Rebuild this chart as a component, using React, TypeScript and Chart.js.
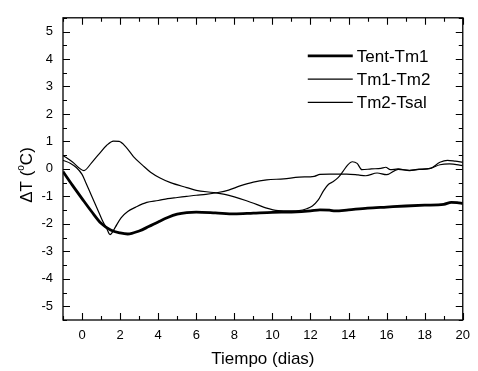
import React, { useEffect, useRef } from "react";
import { Chart, registerables } from "chart.js";

Chart.register(...registerables);

// ---- data ----
const seriesLabels = ["Tent-Tm1", "Tm1-Tm2", "Tm2-Tsal"];

const tentTm1X = [-1, -0.5, 0, 0.5, 1.0, 1.5, 2.0, 2.4, 3.0, 3.5, 4.0, 4.5, 5.0, 5.5, 6.0, 7.0, 8.0, 9.0, 10.0, 11.0, 12.0, 12.5, 13.0, 13.3, 14.0, 15.0, 16.0, 17.0, 18.0, 19.0, 19.4, 19.7, 20];
const tentTm1Y = [-0.1, -0.6, -1.08, -1.55, -1.98, -2.22, -2.33, -2.37, -2.26, -2.1, -1.93, -1.77, -1.65, -1.59, -1.57, -1.6, -1.64, -1.61, -1.58, -1.57, -1.53, -1.49, -1.5, -1.53, -1.49, -1.43, -1.39, -1.35, -1.32, -1.29, -1.22, -1.23, -1.26];

const tm1Tm2X = [-1, -0.5, 0.1, 0.5, 0.9, 1.3, 1.65, 1.95, 2.3, 2.7, 3.2, 3.6, 4.1, 4.65, 5.5, 6.0, 6.9, 7.5, 8.0, 8.6, 9.2, 9.65, 10.3, 11.0, 11.4, 11.8, 12.1, 12.4, 12.7, 12.95, 13.2, 13.45, 13.7, 13.95, 14.2, 14.45, 14.7, 15.2, 15.7, 15.95, 16.2, 16.6, 17.2, 17.7, 18.3, 18.8, 19.2, 19.6, 20];
const tm1Tm2Y = [0.49, 0.25, -0.06, 0.22, 0.55, 0.86, 1.01, 1.0, 0.8, 0.45, 0.12, -0.12, -0.33, -0.5, -0.68, -0.78, -0.86, -0.93, -1.02, -1.15, -1.3, -1.42, -1.52, -1.53, -1.52, -1.45, -1.35, -1.14, -0.78, -0.56, -0.46, -0.32, -0.1, 0.14, 0.26, 0.2, -0.03, 0.0, 0.02, 0.06, -0.03, 0.0, -0.06, -0.02, 0.02, 0.24, 0.31, 0.28, 0.24];

const tm2TsalX = [-1, -0.6, -0.3, 0, 0.2, 0.5, 0.8, 1.05, 1.3, 1.47, 1.6, 1.75, 2.05, 2.4, 2.8, 3.4, 4.0, 4.5, 5.0, 5.5, 6.0, 6.5, 7.14, 7.7, 8.3, 9.0, 9.7, 10.6, 11.4, 12.2, 12.5, 13.0, 13.9, 14.5, 14.9, 15.5, 16.0, 16.6, 17.2, 17.6, 18.3, 18.8, 19.3, 20];
const tm2TsalY = [0.31, 0.2, 0.05, -0.2, -0.5, -0.98, -1.45, -1.85, -2.18, -2.39, -2.3, -2.12, -1.78, -1.55, -1.4, -1.22, -1.15, -1.08, -1.04, -1.0, -0.96, -0.93, -0.86, -0.77, -0.62, -0.48, -0.4, -0.36, -0.3, -0.27, -0.2, -0.19, -0.19, -0.22, -0.25, -0.15, -0.21, -0.02, -0.05, -0.02, 0.02, 0.15, 0.18, 0.12];

const xTicks = [0, 2, 4, 6, 8, 10, 12, 14, 16, 18, 20];
const yTicks = [-5, -4, -3, -2, -1, 0, 1, 2, 3, 4, 5];
const xMin = -1;
const xMax = 20;
const yMin = -5.5;
const yMax = 5.5;
const xTitle = "Tiempo (dias)";
const yTitleParts = ["\u0394T (", "o", "C)"];

const FONT = "'Liberation Sans', Arial, Helvetica, sans-serif";

function pts(xs: number[], ys: number[]) {
  return xs.map((x, i) => ({ x, y: ys[i] }));
}

const framePlugin = {
  id: "frameTicks",
  afterDatasetsDraw(chart: any) {
    const { ctx, chartArea } = chart;
    const { left, right, top, bottom } = chartArea;
    const xs = chart.scales.x;
    const ys = chart.scales.y;
    ctx.save();
    ctx.strokeStyle = "#000";
    ctx.lineWidth = 1.3;
    ctx.strokeRect(left, top, right - left, bottom - top);
    ctx.lineWidth = 1.1;
    ctx.beginPath();
    for (let v = Math.ceil(xMin); v <= xMax; v += 1) {
      const px = Math.round(xs.getPixelForValue(v)) + 0.5;
      const len = v % 2 === 0 ? 7 : 4;
      ctx.moveTo(px, bottom);
      ctx.lineTo(px, bottom - len);
      ctx.moveTo(px, top);
      ctx.lineTo(px, top + len);
    }
    for (let v = yMin; v <= yMax + 1e-9; v += 0.5) {
      const py = Math.round(ys.getPixelForValue(v)) + 0.5;
      const len = Number.isInteger(v) ? 7 : 4;
      ctx.moveTo(left, py);
      ctx.lineTo(left + len, py);
      ctx.moveTo(right, py);
      ctx.lineTo(right - len, py);
    }
    ctx.stroke();

    // legend
    const lx0 = right - 155;
    const lx1 = right - 110;
    const tx = right - 106;
    ctx.font = `17px ${FONT}`;
    ctx.fillStyle = "#000";
    ctx.textAlign = "left";
    ctx.textBaseline = "alphabetic";
    chart.data.datasets.forEach((ds: any, i: number) => {
      const y = top + 38 + i * 23.3;
      ctx.lineWidth = ds.borderWidth;
      ctx.beginPath();
      ctx.moveTo(lx0, y);
      ctx.lineTo(lx1, y);
      ctx.stroke();
      ctx.fillText(ds.label, tx, y + 6);
    });

    // y title
    ctx.save();
    ctx.translate(25.5, 175);
    ctx.rotate(-Math.PI / 2);
    const bigFont = `17px ${FONT}`;
    const smallFont = `10px ${FONT}`;
    ctx.font = bigFont;
    const w0 = ctx.measureText(yTitleParts[0]).width;
    const w2 = ctx.measureText(yTitleParts[2]).width;
    ctx.font = smallFont;
    const w1 = ctx.measureText(yTitleParts[1]).width;
    const total = w0 + w1 + w2;
    let cx = -total / 2;
    const base = 6;
    ctx.textAlign = "left";
    ctx.font = bigFont;
    ctx.fillText(yTitleParts[0], cx, base);
    cx += w0;
    ctx.font = smallFont;
    ctx.fillText(yTitleParts[1], cx, base - 7.5);
    cx += w1;
    ctx.font = bigFont;
    ctx.fillText(yTitleParts[2], cx, base);
    ctx.restore();

    ctx.restore();
  },
};

export default function App() {
  const ref = useRef<HTMLCanvasElement | null>(null);
  useEffect(() => {
    if (!ref.current) return;
    const chart = new Chart(ref.current, {
      type: "line",
      data: {
        datasets: [
          { label: seriesLabels[0], data: pts(tentTm1X, tentTm1Y), borderColor: "#000", borderWidth: 2.8, pointRadius: 0, cubicInterpolationMode: "monotone", fill: false },
          { label: seriesLabels[1], data: pts(tm1Tm2X, tm1Tm2Y), borderColor: "#000", borderWidth: 1.2, pointRadius: 0, cubicInterpolationMode: "monotone", fill: false },
          { label: seriesLabels[2], data: pts(tm2TsalX, tm2TsalY), borderColor: "#000", borderWidth: 1.2, pointRadius: 0, cubicInterpolationMode: "monotone", fill: false },
        ],
      },
      options: {
        animation: false,
        responsive: false,
        devicePixelRatio: 1,
        layout: { padding: { top: 7, right: 8, left: 0, bottom: 0 } },
        plugins: { legend: { display: false }, tooltip: { enabled: false }, title: { display: false } },
        scales: {
          x: {
            type: "linear",
            position: "bottom",
            min: xMin,
            max: xMax,
            grid: { display: false, drawTicks: false },
            border: { display: false },
            afterBuildTicks: (s: any) => { s.ticks = xTicks.map((v) => ({ value: v })); },
            afterFit: (s: any) => { s.height = 51; },
            ticks: { color: "#000", font: { family: FONT, size: 13 }, padding: 8, maxRotation: 0, autoSkip: false, callback: (v: any) => String(v) },
            title: { display: true, text: xTitle, color: "#000", font: { family: FONT, size: 17 }, padding: { top: 0, bottom: 1 } },
          },
          y: {
            type: "linear",
            position: "left",
            min: yMin,
            max: yMax,
            grid: { display: false, drawTicks: false },
            border: { display: false },
            afterBuildTicks: (s: any) => { s.ticks = yTicks.map((v) => ({ value: v })); },
            afterFit: (s: any) => { s.width = 63; },
            ticks: { color: "#000", font: { family: FONT, size: 13 }, padding: 10, autoSkip: false, callback: (v: any) => String(v) },
          },
        },
      },
      plugins: [framePlugin],
    } as any);
    return () => chart.destroy();
  }, []);
  return (
    <div style={{ position: "fixed", left: 0, top: 0, width: 478, height: 371, background: "#fff" }}>
      <canvas ref={ref} width={478} height={371} style={{ display: "block" }} />
    </div>
  );
}
